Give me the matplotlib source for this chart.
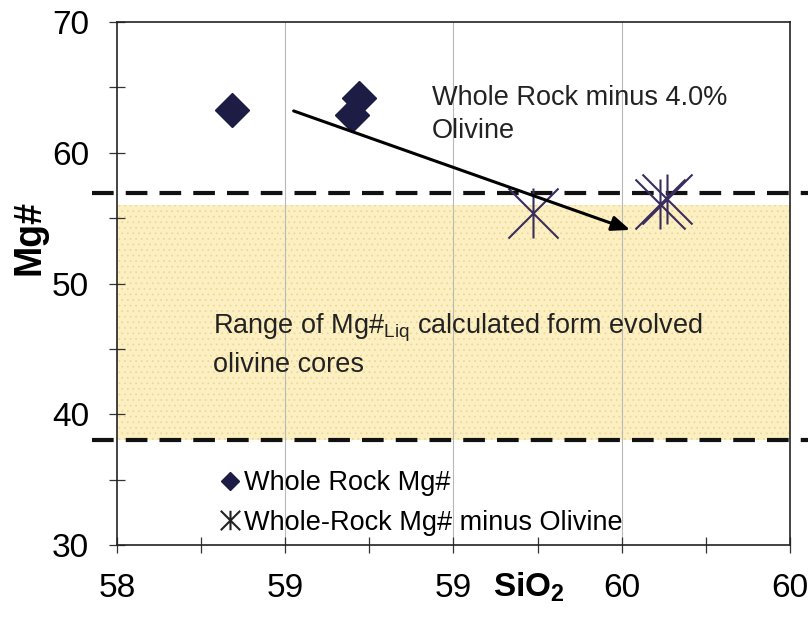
import matplotlib
matplotlib.use("Agg")
import matplotlib.pyplot as plt
import numpy as np
from matplotlib.path import Path
from matplotlib.lines import Line2D
from matplotlib.ticker import MultipleLocator, FormatStrFormatter

plt.rcParams['font.family'] = ['Liberation Sans', 'DejaVu Sans']
plt.rcParams['mathtext.fontset'] = 'custom'
plt.rcParams['mathtext.rm'] = 'Liberation Sans'
plt.rcParams['mathtext.bf'] = 'Liberation Sans:bold'
plt.rcParams['hatch.linewidth'] = 0.6
plt.rcParams['hatch.color'] = '#efd79a'

# whole rock analyses
wr_sio2 = [58.673, 58.959, 58.975]
wr_mg = [63.3, 62.9, 64.2]

# whole rock after removing 4% olivine
corr_sio2 = [59.39, 59.691, 59.707]
corr_mg = [55.4, 56.1, 56.5]

# Mg# liquid range from evolved olivine cores
liq_low, liq_high = 38.0, 56.0
liq_lines = [56.9, 38.0]

# arrow from whole rock toward corrected compositions
arrow_start = (58.82, 63.2)
arrow_end = (59.62, 54.1)

xticks = [58.4, 58.8, 59.2, 59.6, 60.0]

# asterisk marker: vertical bar plus an X
star = Path([(0, -1), (0, 1), (-1, -1), (1, 1), (-1, 1), (1, -1)],
            [Path.MOVETO, Path.LINETO, Path.MOVETO, Path.LINETO,
             Path.MOVETO, Path.LINETO])

navy = '#1c1c44'
star_col = '#3a2d5c'

fig = plt.figure(figsize=(8.08, 6.17), dpi=100)
ax = fig.add_axes([0.1448, 0.1167, 0.8329, 0.8476])

ax.set_xlim(58.4, 60.0)
ax.set_ylim(30, 70)

ax.axhspan(liq_low, liq_high, facecolor='#fcf0c2', hatch='...', lw=0, zorder=0)
for xv in xticks[1:-1]:
    ax.axvline(xv, color='#b8b8b8', lw=0.8, zorder=0.5)

for yv in liq_lines:
    ax.axhline(yv, xmin=-0.037, xmax=1.03, color='#111111', lw=3,
               dashes=(5.2, 2.9), clip_on=False, zorder=2)

ax.plot(wr_sio2, wr_mg, ls='none', marker='D', ms=17, color=navy, zorder=4)
ax.plot(corr_sio2, corr_mg, ls='none', marker=star, ms=36, mew=1.5,
        color=star_col, zorder=4)

ax.annotate('', xy=arrow_end, xytext=arrow_start,
            arrowprops=dict(arrowstyle='-|>,head_length=1.1,head_width=0.45',
                            color='black', lw=2.2, shrinkA=0, shrinkB=0),
            zorder=5)

ax.text(59.149, 65.2, 'Whole Rock minus 4.0%\nOlivine', fontsize=19.5,
        va='top', ha='left', linespacing=1.38, color='#222222')
ax.text(58.628, 47.85, 'Range of Mg#$_{\\mathrm{Liq}}$ calculated form evolved\nolivine cores',
        fontsize=19.5, va='top', ha='left', linespacing=1.38, color='#222222')

handles = [Line2D([], [], ls='none', marker='D', ms=9, color=navy),
           Line2D([], [], ls='none', marker=star, ms=14, mew=1.5, color='#222222')]
ax.legend(handles, ['Whole Rock Mg#', 'Whole-Rock Mg# minus Olivine'],
          loc='lower left', bbox_to_anchor=(0.134, -0.008), frameon=False,
          fontsize=19.5, handlelength=0.7, handletextpad=0.15, labelspacing=0.5,
          borderpad=0)

ax.set_xticks(xticks)
ax.xaxis.set_major_formatter(FormatStrFormatter('%.0f'))
ax.xaxis.set_minor_locator(MultipleLocator(0.2))
ax.yaxis.set_major_locator(MultipleLocator(10))
ax.yaxis.set_minor_locator(MultipleLocator(5))
ax.tick_params(which='both', direction='inout', length=12, width=0.9,
               labelsize=24, color='#333333')
ax.tick_params(axis='x', pad=14)
ax.tick_params(axis='y', pad=14)
for s in ax.spines.values():
    s.set_linewidth(1.2)
    s.set_color('#222222')

fig.text(0.654, 0.048, 'SiO$_\\mathbf{2}$', fontsize=24, fontweight='bold',
         ha='center', va='center')
fig.text(0.037, 0.615, 'Mg#', fontsize=27, fontweight='bold', rotation=90,
         ha='center', va='center')

fig.savefig('out.png', dpi=100)
